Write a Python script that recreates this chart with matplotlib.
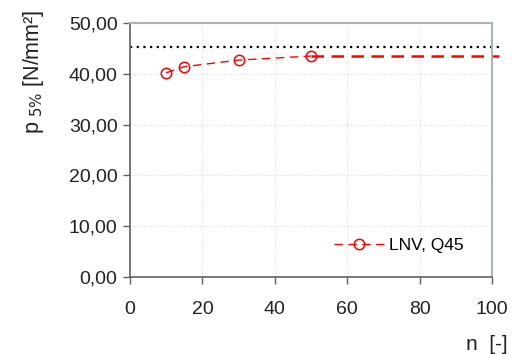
import matplotlib
matplotlib.use("Agg")
import matplotlib.pyplot as plt
from matplotlib.ticker import FuncFormatter, MultipleLocator

plt.rcParams['font.family'] = ['Liberation Sans', 'DejaVu Sans']

# data
n_vals = [10, 15, 30, 50]
p5_vals = [40.2, 41.4, 42.7, 43.5]
n_ext = [50, 102]
p5_ext = [43.5, 43.5]
ref_n = [0, 102]
ref_p = [45.3, 45.3]
series_label = "LNV, Q45"

fig = plt.figure(figsize=(5.13, 3.54), dpi=100)
ax = fig.add_axes([0.2534, 0.2175, 0.7056, 0.7175])

ax.plot(ref_n, ref_p, color='black', ls=(0, (1, 2)), lw=1.6, clip_on=False)
ax.plot(n_ext, p5_ext, color='#ff0000', ls=(0, (5, 3)), lw=1.8, clip_on=False)
ax.plot(n_vals, p5_vals, color='#ff0000', ls=(0, (6, 4)), lw=1.0,
        marker='o', ms=7.5, mfc='none', mec='#ff0000', mew=1.1,
        label=series_label)

ax.set_xlim(0, 100)
ax.set_ylim(0, 50)
ax.xaxis.set_major_locator(MultipleLocator(20))
ax.yaxis.set_major_locator(MultipleLocator(10))
ax.yaxis.set_major_formatter(FuncFormatter(lambda v, p: f"{v:.2f}".replace('.', ',')))

ax.grid(True, color='#d8d8d8', ls=(0, (1, 2)), lw=0.8)
ax.set_axisbelow(True)
for s in ['left', 'bottom']:
    ax.spines[s].set_color('#606060')
    ax.spines[s].set_linewidth(1.2)
for s in ['top', 'right']:
    ax.spines[s].set_color('#a8b4b4')
    ax.spines[s].set_linewidth(1.5)
ax.tick_params(direction='out', length=5, width=1.0, color='#606060',
               labelsize=14, labelcolor='#222222')
ax.tick_params(axis='y', pad=4)
ax.tick_params(axis='x', pad=12)

ax.set_ylabel(r'p$_{\ 5\%}$ [N/mm²]', fontsize=15.5, color='#222222')
ax.yaxis.set_label_coords(-0.232, 0.807)
fig.text(0.99, 0.012, 'n  [-]', fontsize=15, color='#222222',
         ha='right', va='baseline')

ax.legend(loc='center right', bbox_to_anchor=(0.923, 0.126), frameon=False,
          fontsize=12.5, handlelength=2.9, handletextpad=0.3,
          borderpad=0, borderaxespad=0)

fig.savefig('out.png', dpi=100)
